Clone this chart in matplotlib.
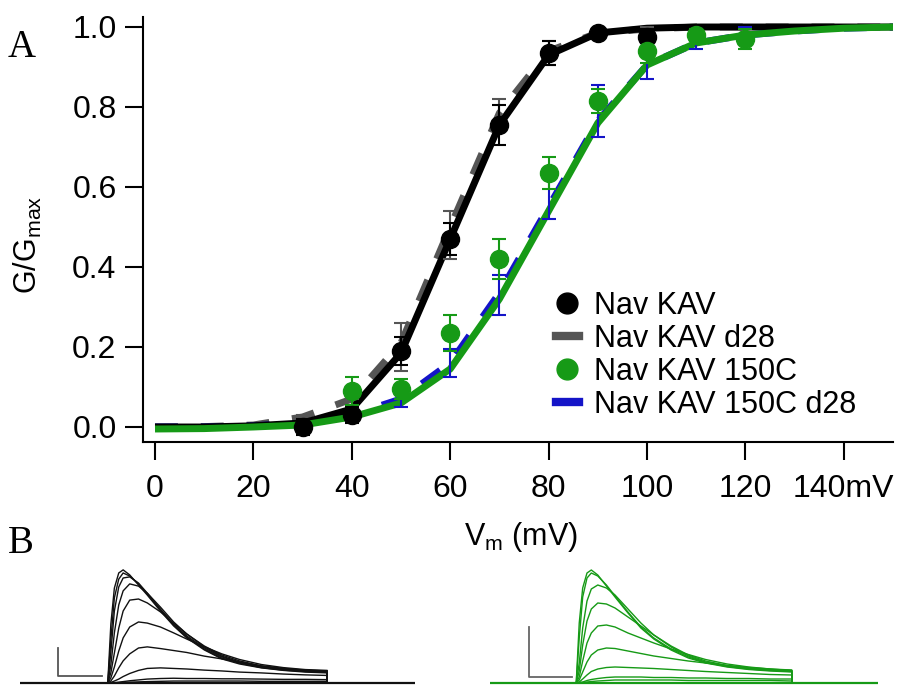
import matplotlib
matplotlib.use("Agg")
import matplotlib.pyplot as plt
from matplotlib.lines import Line2D

plt.rcParams['font.family'] = ['Liberation Sans', 'DejaVu Sans']
plt.rcParams['mathtext.default'] = 'regular'

# Panel A: conductance-voltage data (mean +/- sem)
v_kav = [30, 40, 50, 60, 70, 80, 90, 100]
g_kav = [0.0, 0.03, 0.19, 0.47, 0.755, 0.935, 0.985, 0.975]
e_kav = [0.02, 0.02, 0.035, 0.04, 0.05, 0.03, 0.01, 0.01]

g_kav_d28 = [0.01, 0.05, 0.20, 0.48, 0.78, 0.935, 0.985, 0.99]
e_kav_d28 = [0.02, 0.02, 0.06, 0.06, 0.04, 0.03, 0.01, 0.01]

v_150 = [40, 50, 60, 70, 80, 90, 100, 110, 120]
g_150 = [0.09, 0.095, 0.235, 0.42, 0.635, 0.815, 0.94, 0.98, 0.97]
e_150 = [0.035, 0.025, 0.045, 0.05, 0.04, 0.03, 0.03, 0.015, 0.025]

g_150_d28 = [0.03, 0.07, 0.16, 0.33, 0.58, 0.79, 0.915, 0.97, 0.985]
e_150_d28 = [0.01, 0.02, 0.035, 0.05, 0.06, 0.065, 0.045, 0.025, 0.015]

# Boltzmann fits, sampled every 10 mV
v_fit = [0, 10, 20, 30, 40, 50, 60, 70, 80, 90, 100, 110, 120, 130, 140, 150]
fit_kav = [0, 0, 0.003, 0.01, 0.045, 0.185, 0.47, 0.755, 0.93, 0.985, 0.997, 1, 1, 1, 1, 1]
fit_kav_d28 = [0, 0.001, 0.005, 0.025, 0.07, 0.21, 0.50, 0.785, 0.94, 0.985, 0.995, 1, 1, 1, 1, 1]
fit_150 = [-0.005, -0.004, 0, 0.005, 0.025, 0.06, 0.145, 0.32, 0.54, 0.76, 0.905, 0.96, 0.98, 0.99, 0.997, 1.0]
fit_150_d28 = [0, 0, 0.003, 0.01, 0.03, 0.07, 0.16, 0.335, 0.55, 0.765, 0.905, 0.96, 0.98, 0.99, 0.997, 1.0]

x_ticks = [0, 20, 40, 60, 80, 100, 120, 140]
x_labels = ['0', '20', '40', '60', '80', '100', '120', '140mV']
y_ticks = [0.0, 0.2, 0.4, 0.6, 0.8, 1.0]
labels = ['Nav KAV', 'Nav KAV d28', 'Nav KAV 150C', 'Nav KAV 150C d28']

# Panel B: current traces (nA) during a 50 ms step, one list per step voltage
t_step = [0, 0.7, 1.5, 2.5, 3.5, 5, 7, 9, 12, 15, 18, 22, 26, 30, 35, 40, 45, 50]
traces_kav = [
    [0, 2.10, 3.39, 3.93, 4.04, 3.86, 3.50, 3.14, 2.57, 2.04, 1.61, 1.18, 0.86, 0.68, 0.54, 0.45, 0.39, 0.36],
    [0, 1.55, 3.04, 3.71, 3.93, 3.82, 3.54, 3.18, 2.61, 2.07, 1.64, 1.21, 0.89, 0.71, 0.55, 0.46, 0.41, 0.38],
    [0, 1.10, 2.57, 3.43, 3.75, 3.79, 3.57, 3.21, 2.64, 2.11, 1.68, 1.25, 0.93, 0.73, 0.57, 0.48, 0.43, 0.39],
    [0, 0.64, 1.79, 2.79, 3.29, 3.54, 3.46, 3.21, 2.71, 2.18, 1.75, 1.29, 0.96, 0.75, 0.59, 0.50, 0.45, 0.41],
    [0, 0.36, 1.07, 1.96, 2.57, 2.96, 3.00, 2.86, 2.54, 2.14, 1.75, 1.32, 1.00, 0.79, 0.61, 0.52, 0.46, 0.43],
    [0, 0.18, 0.57, 1.14, 1.61, 2.00, 2.18, 2.14, 2.00, 1.79, 1.57, 1.29, 1.04, 0.84, 0.66, 0.55, 0.48, 0.45],
    [0, 0.07, 0.25, 0.54, 0.79, 1.04, 1.25, 1.29, 1.23, 1.16, 1.09, 0.96, 0.86, 0.75, 0.61, 0.52, 0.45, 0.41],
    [0, 0.02, 0.07, 0.14, 0.23, 0.34, 0.45, 0.52, 0.54, 0.52, 0.50, 0.46, 0.43, 0.39, 0.36, 0.32, 0.29, 0.27],
    [0, 0.00, 0.01, 0.03, 0.05, 0.08, 0.11, 0.14, 0.16, 0.17, 0.16, 0.16, 0.15, 0.15, 0.14, 0.13, 0.13, 0.12],
    [0, 0.00, 0.00, 0.01, 0.02, 0.03, 0.04, 0.05, 0.06, 0.07, 0.07, 0.07, 0.07, 0.07, 0.06, 0.06, 0.06, 0.06],
]
traces_150 = [
    [0, 1.20, 1.90, 2.20, 2.26, 2.16, 1.94, 1.72, 1.40, 1.10, 0.88, 0.66, 0.50, 0.40, 0.32, 0.27, 0.24, 0.22],
    [0, 0.90, 1.72, 2.10, 2.20, 2.14, 1.96, 1.74, 1.42, 1.12, 0.90, 0.68, 0.52, 0.41, 0.33, 0.28, 0.25, 0.23],
    [0, 0.40, 1.10, 1.64, 1.88, 1.96, 1.90, 1.76, 1.48, 1.20, 0.96, 0.72, 0.54, 0.42, 0.34, 0.29, 0.26, 0.24],
    [0, 0.24, 0.76, 1.24, 1.48, 1.60, 1.58, 1.50, 1.32, 1.14, 0.96, 0.74, 0.56, 0.44, 0.35, 0.30, 0.27, 0.25],
    [0, 0.12, 0.44, 0.80, 1.00, 1.14, 1.16, 1.12, 1.00, 0.90, 0.80, 0.68, 0.57, 0.47, 0.38, 0.32, 0.28, 0.26],
    [0, 0.06, 0.22, 0.42, 0.56, 0.66, 0.70, 0.69, 0.64, 0.59, 0.54, 0.49, 0.44, 0.40, 0.35, 0.31, 0.28, 0.25],
    [0, 0.02, 0.08, 0.16, 0.23, 0.28, 0.31, 0.32, 0.31, 0.30, 0.29, 0.27, 0.25, 0.23, 0.21, 0.19, 0.17, 0.16],
    [0, 0.01, 0.02, 0.05, 0.07, 0.09, 0.11, 0.12, 0.12, 0.12, 0.11, 0.11, 0.10, 0.10, 0.09, 0.09, 0.08, 0.08],
    [0, 0.00, 0.01, 0.02, 0.03, 0.04, 0.05, 0.06, 0.06, 0.06, 0.06, 0.06, 0.05, 0.05, 0.05, 0.05, 0.05, 0.04],
]
t_base = [-20, 70]
scale_ms = 10
scale_nA = 1

black = '#000000'
gray = '#555555'
green = '#169a16'
blue = '#1414c8'

fig = plt.figure(figsize=(9.06, 6.89), dpi=100)

# ---- panel A ----
ax = fig.add_axes([143 / 906, 1 - 442 / 689, 750 / 906, 425 / 689])
lw = 5
ax.plot(v_fit, fit_kav_d28, color=gray, lw=lw, dashes=(3.3, 3.3), zorder=1)
ax.plot(v_fit, fit_150_d28, color=blue, lw=lw, dashes=(3.3, 3.3), zorder=1)
ax.plot(v_fit, fit_kav, color=black, lw=lw, zorder=2, solid_capstyle='butt')
ax.plot(v_fit, fit_150, color=green, lw=lw, zorder=2, solid_capstyle='butt')

eb = dict(capsize=5, capthick=1.5, elinewidth=1.5, zorder=3)
ax.errorbar(v_kav, g_kav_d28, yerr=e_kav_d28, fmt='none', ecolor=gray, **eb)
ax.errorbar(v_150, g_150_d28, yerr=e_150_d28, fmt='none', ecolor=blue, **eb)
ax.errorbar(v_kav, g_kav, yerr=e_kav, fmt='none', ecolor=black, **eb)
ax.errorbar(v_150, g_150, yerr=e_150, fmt='none', ecolor=green, **eb)
ax.plot(v_kav, g_kav, 'o', color=black, ms=13, zorder=4)
ax.plot(v_150, g_150, 'o', color=green, ms=13, zorder=4)

ax.set_xlim(-2.44, 150)
ax.set_ylim(-0.0375, 1.025)
for s in ['top', 'right']:
    ax.spines[s].set_visible(False)
for s in ['left', 'bottom']:
    ax.spines[s].set_linewidth(1.5)
ax.set_xticks(x_ticks)
ax.set_xticklabels(x_labels, fontsize=23)
ax.set_yticks(y_ticks)
ax.set_yticklabels([f'{v:.1f}' for v in y_ticks], fontsize=23)
ax.tick_params(axis='both', direction='out', length=13, width=1.5)
ax.tick_params(axis='x', pad=10)
ax.tick_params(axis='y', pad=6)

handles = [
    Line2D([], [], ls='none', marker='o', color=black, ms=15),
    Line2D([], [], color=gray, lw=6),
    Line2D([], [], ls='none', marker='o', color=green, ms=15),
    Line2D([], [], color=blue, lw=6),
]
fig.legend(handles, labels, loc='upper left', bbox_to_anchor=(556 / 906, 1 - 291 / 689),
           frameon=False, fontsize=22, handlelength=0.75, handletextpad=0.5,
           labelspacing=0.1, borderpad=0, borderaxespad=0)

fig.text(28 / 906, 1 - 245 / 689, 'G/G$_{max}$', rotation=90, ha='center', va='center', fontsize=22)
fig.text(521 / 906, 1 - 537 / 689, 'V$_{m}$ (mV)', ha='center', va='center', fontsize=22)
fig.text(8 / 906, 1 - 57 / 689, 'A', family='Liberation Serif', fontsize=28, va='baseline')
fig.text(8 / 906, 1 - 553 / 689, 'B', family='Liberation Serif', fontsize=28, va='baseline')

# ---- panel B ----
def draw_traces(rect, traces, color, ylim, bar_x, bar_y, bar_color):
    axb = fig.add_axes(rect)
    axb.plot(t_base, [0, 0], color=color, lw=1.6)
    for tr in traces:
        axb.plot(t_step + [t_step[-1]], tr + [0], color=color, lw=1.0)
    axb.plot([bar_x, bar_x, bar_x + scale_ms], [bar_y + scale_nA, bar_y, bar_y],
             color=bar_color, lw=1.3)
    axb.set_xlim(-20, 70)
    axb.set_ylim(*ylim)
    axb.axis('off')

draw_traces([20 / 906, 0, 395 / 906, 129 / 689], traces_kav, '#111111',
            (-6 / 28, 123 / 28), -11.3, 0.25, '#555555')
draw_traces([490 / 906, 0, 388 / 906, 129 / 689], traces_150, green,
            (-6 / 50, 123 / 50), -10.95, 0.12, '#666666')

fig.savefig('out.png', dpi=100)
